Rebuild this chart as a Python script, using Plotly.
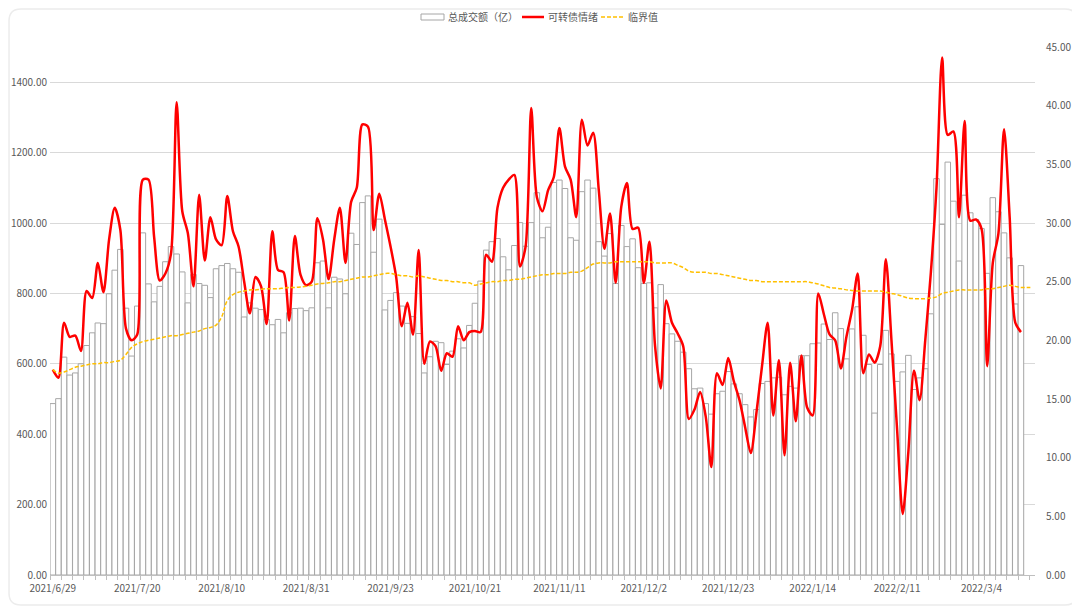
import plotly.graph_objects as go

# ---------------- data ----------------
dates = [
    "2021/6/29", "2021/6/30",
    "2021/7/1", "2021/7/2", "2021/7/5", "2021/7/6", "2021/7/7", "2021/7/8", "2021/7/9",
    "2021/7/12", "2021/7/13", "2021/7/14", "2021/7/15", "2021/7/16", "2021/7/19", "2021/7/20",
    "2021/7/21", "2021/7/22", "2021/7/23", "2021/7/26", "2021/7/27", "2021/7/28", "2021/7/29", "2021/7/30",
    "2021/8/2", "2021/8/3", "2021/8/4", "2021/8/5", "2021/8/6", "2021/8/9", "2021/8/10",
    "2021/8/11", "2021/8/12", "2021/8/13", "2021/8/16", "2021/8/17", "2021/8/18", "2021/8/19", "2021/8/20",
    "2021/8/23", "2021/8/24", "2021/8/25", "2021/8/26", "2021/8/27", "2021/8/30", "2021/8/31",
    "2021/9/1", "2021/9/2", "2021/9/3", "2021/9/6", "2021/9/7", "2021/9/8", "2021/9/9", "2021/9/10",
    "2021/9/13", "2021/9/14", "2021/9/15", "2021/9/16", "2021/9/17", "2021/9/22", "2021/9/23",
    "2021/9/24", "2021/9/27", "2021/9/28", "2021/9/29", "2021/9/30",
    "2021/10/8", "2021/10/11", "2021/10/12", "2021/10/13", "2021/10/14", "2021/10/15",
    "2021/10/18", "2021/10/19", "2021/10/20", "2021/10/21",
    "2021/10/22", "2021/10/25", "2021/10/26", "2021/10/27", "2021/10/28", "2021/10/29",
    "2021/11/1", "2021/11/2", "2021/11/3", "2021/11/4", "2021/11/5",
    "2021/11/8", "2021/11/9", "2021/11/10", "2021/11/11",
    "2021/11/12", "2021/11/15", "2021/11/16", "2021/11/17", "2021/11/18", "2021/11/19",
    "2021/11/22", "2021/11/23", "2021/11/24", "2021/11/25", "2021/11/26", "2021/11/29", "2021/11/30",
    "2021/12/1", "2021/12/2",
    "2021/12/3", "2021/12/6", "2021/12/7", "2021/12/8", "2021/12/9", "2021/12/10",
    "2021/12/13", "2021/12/14", "2021/12/15", "2021/12/16", "2021/12/17",
    "2021/12/20", "2021/12/21", "2021/12/22", "2021/12/23",
    "2021/12/24", "2021/12/27", "2021/12/28", "2021/12/29", "2021/12/30", "2021/12/31",
    "2022/1/4", "2022/1/5", "2022/1/6", "2022/1/7",
    "2022/1/10", "2022/1/11", "2022/1/12", "2022/1/13", "2022/1/14",
    "2022/1/17", "2022/1/18", "2022/1/19", "2022/1/20", "2022/1/21",
    "2022/1/24", "2022/1/25", "2022/1/26", "2022/1/27", "2022/1/28",
    "2022/2/7", "2022/2/8", "2022/2/9", "2022/2/10", "2022/2/11",
    "2022/2/14", "2022/2/15", "2022/2/16", "2022/2/17", "2022/2/18",
    "2022/2/21", "2022/2/22", "2022/2/23", "2022/2/24", "2022/2/25",
    "2022/2/28", "2022/3/1", "2022/3/2", "2022/3/3", "2022/3/4",
    "2022/3/7", "2022/3/8", "2022/3/9", "2022/3/10", "2022/3/11",
    "2022/3/14", "2022/3/15", "2022/3/16", "2022/3/17",
]

# 总成交额（亿） - left axis
turnover = [
    487, 501, 619, 568, 574, 600, 652, 688, 716, 714,
    799, 866, 925, 758, 622, 764, 972, 827, 776, 820,
    890, 933, 912, 861, 773, 854, 828, 823, 788, 870,
    879, 885, 870, 860, 733, 773, 758, 754, 726, 711,
    726, 688, 745, 757, 758, 751, 759, 887, 892, 759,
    846, 841, 799, 971, 939, 1058, 1077, 917, 1011, 753,
    780, 802, 764, 715, 734, 686, 574, 620, 664, 660,
    598, 636, 671, 645, 709, 772, 835, 923, 947, 956,
    904, 867, 936, 1001, 934, 1001, 1086, 958, 988, 1115,
    1122, 1098, 958, 951, 1089, 1122, 1099, 947, 906, 970,
    828, 993, 933, 955, 873, 828, 830, 759, 825, 714,
    685, 664, 633, 586, 529, 531, 487, 457, 515, 522,
    578, 543, 515, 484, 449, 470, 544, 550, 560, 562,
    512, 536, 531, 623, 623, 657, 659, 713, 669, 745,
    700, 614, 699, 762, 681, 598, 460, 598, 695, 628,
    550, 577, 624, 527, 560, 586, 742, 1126, 996, 1173,
    1062, 892, 1079, 1029, 1010, 984, 857, 1072, 1032, 972,
    901, 770, 879,
]

# 可转债情绪 - right axis
sentiment = [
    17.5, 16.8, 21.5, 20.3, 20.4, 19.1, 24.2, 23.6, 26.6, 24.1,
    28.6, 31.3, 29.4, 21.0, 20.0, 20.5, 33.7, 33.7, 28.8, 25.1,
    25.7, 27.4, 40.3, 31.0, 29.1, 24.6, 32.4, 26.8, 30.5, 28.6,
    28.1, 32.3, 29.3, 28.0, 25.0, 22.3, 25.4, 24.6, 21.4, 29.3,
    26.0, 25.8, 21.7, 28.9, 25.6, 24.7, 25.0, 30.4, 28.6, 25.2,
    28.6, 31.3, 26.6, 31.8, 33.0, 38.4, 38.2, 29.4, 32.5, 30.3,
    28.0, 25.4, 21.2, 23.2, 20.5, 27.7, 18.0, 19.9, 19.5, 17.4,
    18.9, 18.6, 21.2, 20.0, 20.7, 20.8, 20.7, 27.3, 26.7, 31.3,
    33.0, 33.7, 34.1, 26.3, 28.0, 39.8, 32.2, 31.0, 32.8, 33.9,
    38.1, 34.8, 33.7, 30.5, 38.8, 36.6, 37.7, 32.8, 27.8, 30.8,
    24.9, 31.4, 33.4, 29.5, 29.6, 24.9, 28.4, 19.5, 15.9, 23.4,
    21.5, 20.6, 19.5, 13.3, 14.1, 15.6, 13.5, 9.2, 17.2, 16.2,
    18.5, 16.5, 14.9, 12.6, 10.4, 13.8, 17.8, 21.5, 13.6, 18.3,
    10.2, 18.1, 13.1, 18.7, 14.3, 13.6, 24.0, 22.2, 20.5, 20.0,
    17.6, 20.3, 22.6, 25.7, 17.2, 18.8, 18.1, 19.5, 26.9, 20.0,
    12.4, 5.2, 10.5, 17.4, 14.9, 20.0, 25.8, 33.0, 44.1, 37.5,
    37.8, 30.5, 38.7, 30.2, 30.3, 29.5, 17.8, 26.6, 29.1, 38.0,
    30.5, 21.5, 20.7,
]

# 临界值 - right axis
critical = [
    17.5, 17.2, 17.3, 17.5, 17.7, 17.8, 17.9, 18.0, 18.0, 18.1,
    18.1, 18.2, 18.3, 18.8, 19.4, 19.7, 19.9, 20.0, 20.1, 20.2,
    20.3, 20.4, 20.4, 20.5, 20.6, 20.7, 20.8, 21.0, 21.1, 21.3,
    22.0, 23.4, 23.9, 24.1, 24.2, 24.3, 24.3, 24.35, 24.4, 24.4,
    24.4, 24.45, 24.5, 24.5, 24.55, 24.6, 24.7, 24.8, 24.85, 24.9,
    25.0, 25.0, 25.1, 25.2, 25.3, 25.4, 25.4, 25.5, 25.6, 25.7,
    25.7, 25.6, 25.5, 25.5, 25.4, 25.5, 25.4, 25.3, 25.2, 25.1,
    25.1, 25.0, 25.0, 24.9, 24.9, 24.7, 24.8, 24.9, 25.0, 25.0,
    25.1, 25.1, 25.2, 25.2, 25.3, 25.4, 25.5, 25.6, 25.6, 25.7,
    25.7, 25.7, 25.8, 25.8, 25.9, 26.2, 26.5, 26.6, 26.6, 26.6,
    26.7, 26.7, 26.7, 26.7, 26.7, 26.7, 26.7, 26.6, 26.6, 26.6,
    26.6, 26.4, 26.2, 25.9, 25.8, 25.8, 25.8, 25.7, 25.7, 25.6,
    25.5, 25.4, 25.3, 25.2, 25.1, 25.1, 25.0, 25.0, 25.0, 25.0,
    25.0, 25.0, 25.0, 25.0, 25.0, 24.9, 24.8, 24.65, 24.5, 24.45,
    24.4, 24.3, 24.25, 24.2, 24.2, 24.2, 24.2, 24.2, 24.1, 24.0,
    23.9, 23.75, 23.6, 23.55, 23.55, 23.55, 23.6, 23.7, 24.0, 24.1,
    24.2, 24.3, 24.3, 24.3, 24.3, 24.3, 24.4, 24.4, 24.5, 24.6,
    24.7, 24.6, 24.5, 24.5, 24.5,
]

series_names = ["总成交额（亿）", "可转债情绪", "临界值"]

tick_step = 15
tick_idx = list(range(0, len(dates), tick_step))
tick_text = [dates[i] for i in tick_idx]

# ---------------- figure ----------------
# the page adds an 8px body margin, so the figure is 8px smaller than the window
W, H = 1072, 600
ML, MR, MT, MB = 42, 45, 39, 33
PW, PH = W - ML - MR, H - MT - MB

FONT = "Noto Sans CJK SC, Noto Sans, sans-serif"
TXT = "#595959"
BAR_LINE = "#a6a6a6"
RED = "#ff0000"
ORANGE = "#ffc000"

fig = go.Figure()
fig.add_trace(go.Bar(
    x=list(range(len(turnover))), y=turnover, name=series_names[0],
    marker=dict(color="#ffffff", line=dict(color=BAR_LINE, width=1)),
    yaxis="y",
))
fig.add_trace(go.Scatter(
    x=list(range(len(sentiment))), y=sentiment, name=series_names[1], mode="lines",
    line=dict(color=RED, width=2.5, shape="spline", smoothing=0.8),
    yaxis="y2",
))
fig.add_trace(go.Scatter(
    x=list(range(len(critical))), y=critical, name=series_names[2], mode="lines",
    line=dict(color=ORANGE, width=1.5, dash="4px,2px", shape="spline"),
    yaxis="y2",
))


def px2paper(px, py):
    return (px - ML) / PW, (H - MB - py) / PH


def rounded_rect(x0, y0, x1, y1, r):
    def P(px, py):
        a, b = px2paper(px, py)
        return f"{a:.5f},{b:.5f}"
    return " ".join([
        f"M {P(x0 + r, y0)}", f"L {P(x1 - r, y0)}", f"Q {P(x1, y0)} {P(x1, y0 + r)}",
        f"L {P(x1, y1 - r)}", f"Q {P(x1, y1)} {P(x1 - r, y1)}",
        f"L {P(x0 + r, y1)}", f"Q {P(x0, y1)} {P(x0, y1 - r)}",
        f"L {P(x0, y0 + r)}", f"Q {P(x0, y0)} {P(x0 + r, y0)} Z",
    ])


shapes = [dict(
    type="path", xref="paper", yref="paper", layer="below",
    path=rounded_rect(1, 1, W - 3, H - 3, 12),
    line=dict(color="#ececec", width=1.5), fillcolor="rgba(0,0,0,0)",
)]

# ---- hand-made legend (figure pixel positions) ----
LEG_Y = 9
x0, y0 = px2paper(413, LEG_Y - 3)
x1, y1 = px2paper(436, LEG_Y + 3)
shapes.append(dict(type="rect", xref="paper", yref="paper", x0=x0, x1=x1, y0=y1, y1=y0,
                   line=dict(color=BAR_LINE, width=1), fillcolor="#ffffff"))
a, b = px2paper(514, LEG_Y)
c, _ = px2paper(536, LEG_Y)
shapes.append(dict(type="line", xref="paper", yref="paper", x0=a, x1=c, y0=b, y1=b,
                   line=dict(color=RED, width=2.5)))
a, b = px2paper(593, LEG_Y)
c, _ = px2paper(615, LEG_Y)
shapes.append(dict(type="line", xref="paper", yref="paper", x0=a, x1=c, y0=b, y1=b,
                   line=dict(color=ORANGE, width=1.5, dash="4px,2px")))

annotations = []
for name, tx in zip(series_names, [438.5, 538.5, 619]):
    ax, ay = px2paper(tx, LEG_Y)
    annotations.append(dict(
        text=name, x=ax, y=ay, xref="paper", yref="paper", xanchor="left", yanchor="middle",
        showarrow=False, font=dict(size=10, color=TXT, family=FONT), borderpad=0,
    ))

fig.update_layout(
    width=W, height=H,
    margin=dict(l=ML, r=MR, t=MT, b=MB, autoexpand=False),
    paper_bgcolor="#ffffff", plot_bgcolor="#ffffff",
    font=dict(family=FONT, size=10, color=TXT),
    bargap=0.02,
    showlegend=False,
    xaxis=dict(
        range=[-0.5, len(dates) - 0.5],
        tickmode="array", tickvals=tick_idx, ticktext=tick_text,
        ticks="", showgrid=False, zeroline=False,
        showline=True, linecolor="#bfbfbf", linewidth=1,
        tickfont=dict(size=10, color=TXT), ticklabelstandoff=4,
        minor=dict(tickmode="linear", tick0=-0.5, dtick=2, ticks="outside",
                   ticklen=4, tickcolor="#bfbfbf", tickwidth=1, showgrid=False),
    ),
    yaxis=dict(
        range=[0, 1500], tick0=0, dtick=200, tickformat=".2f",
        showgrid=True, gridcolor="#d9d9d9", gridwidth=1,
        zeroline=False, showline=False, ticks="",
        tickfont=dict(size=10, color=TXT), ticklabelstandoff=2,
    ),
    yaxis2=dict(
        range=[0, 45], tick0=0, dtick=5, tickformat=".2f",
        overlaying="y", side="right", showgrid=False, zeroline=False,
        showline=False, ticks="",
        tickfont=dict(size=10, color=TXT), ticklabelstandoff=10,
    ),
    shapes=shapes,
    annotations=annotations,
)

fig.write_html("out.html")
